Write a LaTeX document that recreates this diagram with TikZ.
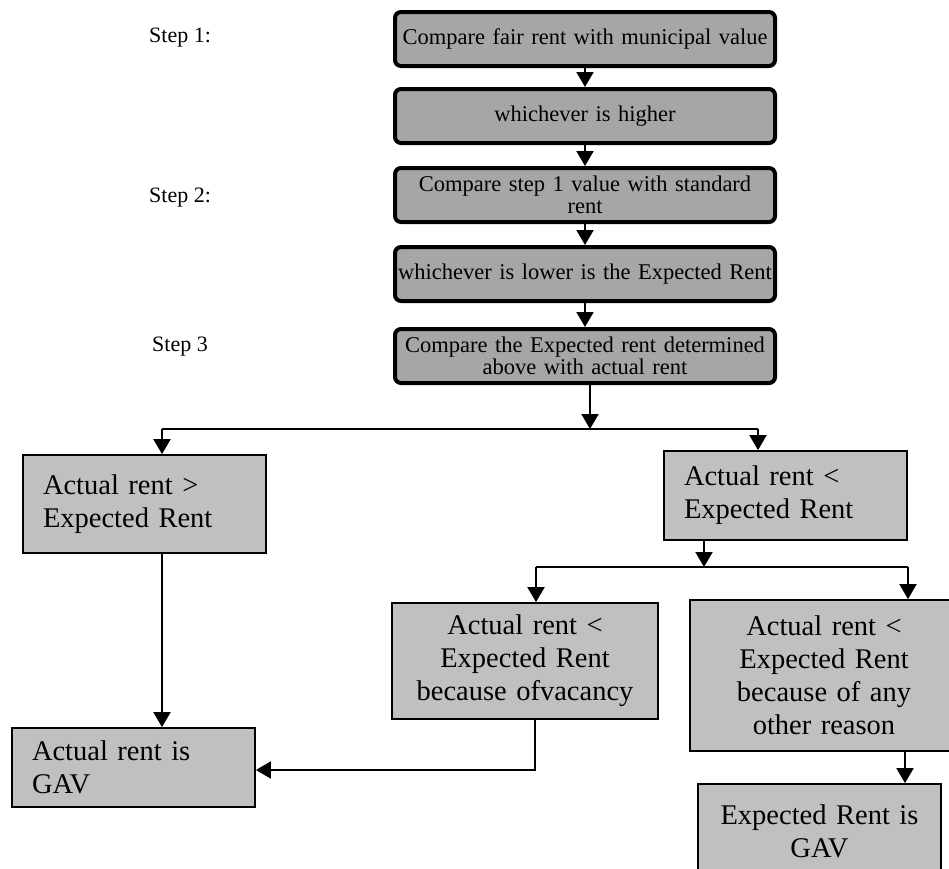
\documentclass[tikz,border=0pt]{standalone}
\usepackage{fontspec}
\setmainfont{Liberation Serif}
\usetikzlibrary{arrows.meta}
\definecolor{topgray}{HTML}{A6A6A6}
\definecolor{lowgray}{HTML}{C0C0C0}
\begin{document}
\begin{tikzpicture}[x=1pt,y=-1pt,
  topbox/.style={draw, fill=topgray, line width=4pt, rounded corners=6pt,
    minimum width=380pt, minimum height=54pt, inner sep=2pt, align=center,
    text width=376pt, font=\fontsize{22.5}{22}\selectfont},
  lowbox/.style={draw, fill=lowgray, line width=1.8pt, inner xsep=20pt,
    font=\fontsize{28.5}{33}\selectfont},
  steplabel/.style={anchor=west, inner sep=0pt, font=\fontsize{22}{26}\selectfont},
  arr/.style={line width=2pt, -{Triangle[width=17pt,length=15pt]}},
  ln/.style={line width=1.6pt}
]
\useasboundingbox (0,0) rectangle (949,868);
\begin{scope}
\clip (0,0) rectangle (949,868);
% top chain
\node[topbox] (b1) at (585,39) {Compare fair rent with municipal value};
\node[topbox] (b2) at (585,116) {whichever is higher};
\node[topbox] (b3) at (585,195) {Compare step 1 value with standard\\rent};
\node[topbox] (b4) at (585,274) {whichever is lower is the Expected Rent};
\node[topbox] (b5) at (585,356) {Compare the Expected rent determined\\above with actual rent};
% step labels
\node[steplabel] (s1) at (149,38) {Step 1:};
\node[steplabel] (s2) at (149,198) {Step 2:};
\node[steplabel] (s3) at (152,347) {Step 3};
% lower boxes
\node[lowbox, minimum width=243pt, minimum height=98pt, text width=203pt, align=left] (A) at (144.5,504) {Actual rent >\\Expected Rent};
\node[lowbox, minimum width=243pt, minimum height=89pt, text width=203pt, align=left] (B) at (785.5,495.5) {Actual rent <\\Expected Rent};
\node[lowbox, minimum width=266pt, minimum height=116pt, text width=226pt, align=center] (C) at (525,661) {Actual rent <\\Expected Rent\\because ofvacancy};
\node[lowbox, minimum width=268pt, minimum height=151pt, text width=228pt, align=center] (D) at (824,675.5) {Actual rent <\\Expected Rent\\because of any\\other reason};
\node[lowbox, minimum width=243pt, minimum height=79pt, text width=203pt, align=left] (E) at (133.5,767.5) {Actual rent is\\GAV};
\node[lowbox, minimum width=243pt, minimum height=95pt, text width=203pt, align=center] (F) at (819.5,831.5) {Expected Rent is\\GAV};
% top connectors
\draw[arr] (b1) -- (b2);
\draw[arr] (b2) -- (b3);
\draw[arr] (b3) -- (b4);
\draw[arr] (b4) -- (b5);
\coordinate (j1) at (590,429);
\coordinate (jl) at (162,429);
\coordinate (jr) at (758,429);
\draw[arr] (b5.south -| j1) -- (j1);
\draw[ln] (jl) -- (jr);
\draw[arr] (jl) -- (jl |- A.north);
\draw[arr] (jr) -- (jr |- B.north);
% split under B
\coordinate (k1) at (704,567);
\coordinate (kl) at (536,567);
\coordinate (kr) at (908,567);
\draw[arr] (B.south -| k1) -- (k1);
\draw[ln] (kl) -- (kr);
\draw[arr] (kl) -- (kl |- C.north);
\draw[arr] (kr) -- (kr |- D.north);
% to GAV boxes
\draw[arr] (A.south -| jl) -- (jl |- E.north);
\coordinate (m) at (535,770);
\draw[arr] (C.south -| m) -- (m) -- (E.east |- m);
\coordinate (nx) at (905,760);
\draw[arr] (D.south -| nx) -- (F.north -| nx);
\end{scope}
\end{tikzpicture}
\end{document}
